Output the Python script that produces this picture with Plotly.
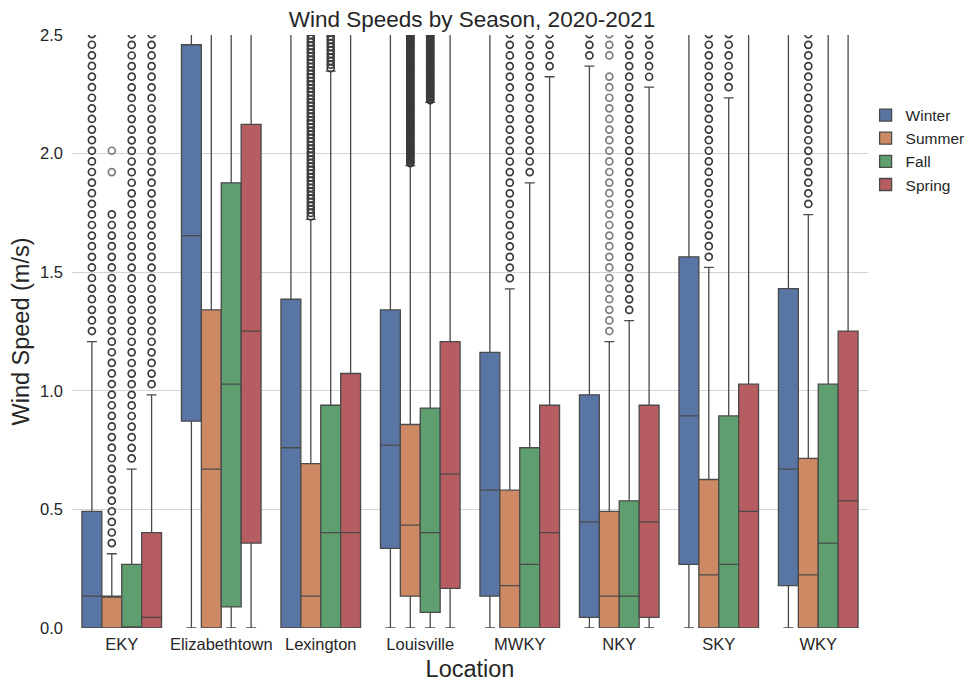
import numpy as np
import plotly.graph_objects as go

# ---------------- data (m/s) ----------------
locations = ["EKY", "Elizabethtown", "Lexington", "Louisville", "MWKY", "NKY", "SKY", "WKY"]
seasons = ["Winter", "Summer", "Fall", "Spring"]

winter_q1 = [0.0, 0.872, 0.0, 0.336, 0.134, 0.045, 0.268, 0.179]
winter_med = [0.134, 1.654, 0.760, 0.771, 0.581, 0.447, 0.894, 0.670]
winter_q3 = [0.492, 2.459, 1.386, 1.341, 1.162, 0.983, 1.565, 1.431]
winter_lo = [0.0, 0.0, 0.0, 0.0, 0.0, 0.0, 0.0, 0.0]
winter_hi = [1.207, 3.4, 3.2, 3.1, 2.6, 2.369, 3.0, 2.9]

summer_q1 = [0.0, 0.0, 0.0, 0.134, 0.0, 0.0, 0.0, 0.0]
summer_med = [0.134, 0.670, 0.134, 0.434, 0.179, 0.134, 0.224, 0.224]
summer_q3 = [0.134, 1.341, 0.693, 0.858, 0.581, 0.492, 0.626, 0.715]
summer_lo = [0.0, 0.0, 0.0, 0.0, 0.0, 0.0, 0.0, 0.0]
summer_hi = [0.313, 3.0, 1.723, 1.949, 1.430, 1.207, 1.520, 1.743]

fall_q1 = [0.0, 0.089, 0.0, 0.066, 0.0, 0.0, 0.0, 0.0]
fall_med = [0.0, 1.028, 0.402, 0.402, 0.268, 0.134, 0.268, 0.358]
fall_q3 = [0.268, 1.877, 0.939, 0.927, 0.760, 0.536, 0.894, 1.028]
fall_lo = [0.0, 0.0, 0.0, 0.0, 0.0, 0.0, 0.0, 0.0]
fall_hi = [0.670, 3.2, 2.348, 2.216, 1.877, 1.296, 2.235, 2.56]

spring_q1 = [0.0, 0.358, 0.0, 0.167, 0.0, 0.045, 0.0, 0.0]
spring_med = [0.045, 1.252, 0.402, 0.649, 0.402, 0.447, 0.492, 0.536]
spring_q3 = [0.402, 2.123, 1.073, 1.207, 0.939, 0.939, 1.028, 1.252]
spring_lo = [0.0, 0.0, 0.0, 0.0, 0.0, 0.0, 0.0, 0.0]
spring_hi = [0.983, 3.3, 2.7, 2.8, 2.324, 2.280, 2.6, 3.1]

# outlier runs: (location, first value, last value, spacing between circles)
# the data has 0.1 mph (0.0447 m/s) resolution; Lexington / Louisville are finer.
winter_out = [("EKY", 1.252, 2.55, 0.0447), ("NKY", 2.414, 2.55, 0.0447)]
summer_out = [("EKY", 0.358, 1.788, 0.0447), ("Lexington", 1.735, 2.55, 0.015),
              ("Louisville", 1.960, 2.55, 0.006), ("MWKY", 1.475, 2.55, 0.0447),
              ("SKY", 1.565, 2.55, 0.0447), ("WKY", 1.788, 2.55, 0.0447)]
summer_out_faint = [("EKY", 1.922, 1.922, 0.0447), ("EKY", 2.012, 2.056, 0.0447),
                    ("NKY", 1.252, 2.325, 0.0447), ("NKY", 2.414, 2.55, 0.0447)]
fall_out = [("EKY", 0.715, 2.55, 0.0447), ("Lexington", 2.360, 2.55, 0.015),
            ("Louisville", 2.225, 2.55, 0.006), ("MWKY", 1.922, 2.55, 0.0447),
            ("NKY", 1.341, 2.55, 0.0447), ("SKY", 2.280, 2.55, 0.0447)]
spring_out = [("EKY", 1.028, 2.55, 0.0447), ("MWKY", 2.369, 2.55, 0.0447),
              ("NKY", 2.324, 2.55, 0.0447)]

stats = {
    "Winter": (winter_q1, winter_med, winter_q3, winter_lo, winter_hi, winter_out, []),
    "Summer": (summer_q1, summer_med, summer_q3, summer_lo, summer_hi, summer_out, summer_out_faint),
    "Fall": (fall_q1, fall_med, fall_q3, fall_lo, fall_hi, fall_out, []),
    "Spring": (spring_q1, spring_med, spring_q3, spring_lo, spring_hi, spring_out, []),
}

# ---------------- styles ----------------
colors = {"Winter": "#5875a4", "Summer": "#cc8963", "Fall": "#5f9e6e", "Spring": "#b55d60"}
LINE = "#4a4a4a"
FONT = "Liberation Sans, Arial, sans-serif"
BOX_W = 0.2

fig = go.Figure()


def expand(runs):
    xs, ys = [], []
    for loc, lo, hi, step in runs:
        vals = np.arange(lo, hi + 1e-9, step)
        ys.extend(vals.tolist())
        xs.extend([locations.index(loc)] * len(vals))
    return xs, ys


for si, s in enumerate(seasons):
    q1, med, q3, lo, hi, outs, faint = stats[s]
    off = (si - 1.5) * BOX_W
    xpos = [i + off for i in range(len(locations))]
    fig.add_trace(go.Box(
        x=xpos, q1=q1, median=med, q3=q3, lowerfence=lo, upperfence=hi,
        name=s, width=BOX_W, whiskerwidth=0.5,
        fillcolor=colors[s], line=dict(color=LINE, width=1.3),
        boxpoints=False, hoverinfo="skip",
    ))
    for runs, col in ((outs, "#3a3a3a"), (faint, "#7d7d7d")):
        if not runs:
            continue
        xi, yv = expand(runs)
        fig.add_trace(go.Scatter(
            x=[x + off for x in xi], y=yv, mode="markers", showlegend=False,
            marker=dict(symbol="circle-open", size=7, color=col,
                        line=dict(width=1.7, color=col)),
            hoverinfo="skip",
        ))

# the page puts the figure 8 px in from the window corner, so the figure is
# 8 px smaller than the window and its margins are measured from that corner
fig.update_layout(
    width=969, height=677,
    margin=dict(l=64, r=109, t=27, b=57, autoexpand=False),
    paper_bgcolor="white", plot_bgcolor="white",
    font=dict(family=FONT, size=16.5, color="#262626"),
    title=dict(text="Wind Speeds by Season, 2020-2021", x=0.5025, xref="paper",
               y=0.995, yref="container", yanchor="top", pad=dict(t=0, b=0),
               font=dict(size=22.5, color="#262626")),
    showlegend=True,
    legend=dict(x=0.997, xanchor="left", y=0.893, yanchor="top",
                font=dict(size=15.5, color="#262626"), tracegroupgap=0,
                bgcolor="rgba(0,0,0,0)"),
    boxmode="overlay",
)
fig.update_xaxes(
    range=[-0.5, 7.5], tickmode="array", tickvals=list(range(len(locations))),
    ticktext=locations, showgrid=False, zeroline=False, showline=False, ticks="",
    ticklabelstandoff=4,
    title=dict(text="Location", font=dict(size=23.5), standoff=9),
    tickfont=dict(size=16.5), automargin=False,
)
fig.update_yaxes(
    range=[0, 2.5], dtick=0.5, tick0=0, tickformat=".1f",
    showgrid=True, gridcolor="#d4d4d4", gridwidth=1, zeroline=False, showline=False,
    ticks="", ticklabelstandoff=8,
    title=dict(text="Wind Speed (m/s)", font=dict(size=23.5), standoff=4),
    tickfont=dict(size=16.5), automargin=False,
)

fig.write_html("out.html")
